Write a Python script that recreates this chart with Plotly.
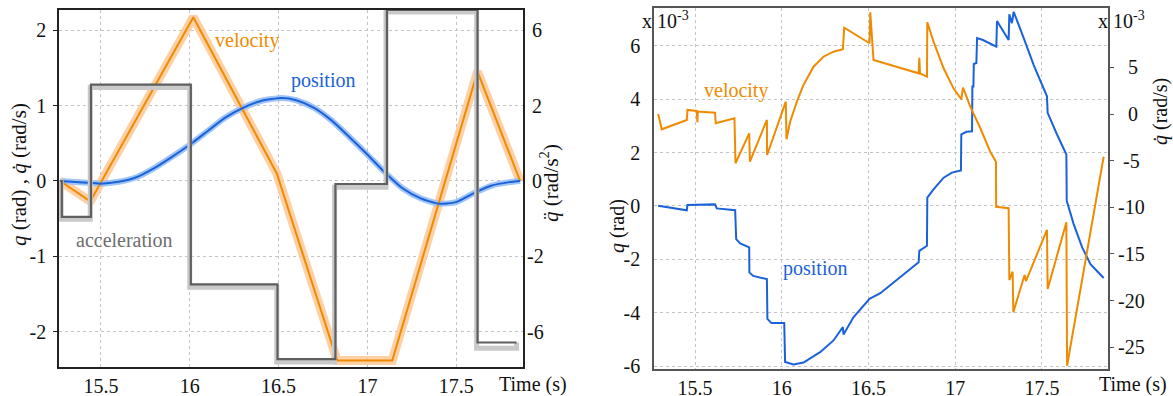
import plotly.graph_objects as go

# ---------------- Left panel data ----------------
vel_t = [15.27, 15.44, 16.02, 16.49, 16.83, 17.14, 17.62, 17.86]
vel_v = [0.0, -0.27, 2.17, 0.10, -2.38, -2.38, 1.45, 0.0]

pos_t = [15.27, 15.40, 15.50, 15.60, 15.70, 15.80, 15.90, 16.00, 16.10, 16.20, 16.30,
         16.40, 16.52, 16.60, 16.70, 16.80, 16.90, 17.00, 17.10, 17.20, 17.30, 17.40,
         17.50, 17.60, 17.70, 17.80, 17.86]
pos_p = [0.0, -0.02, -0.035, -0.01, 0.05, 0.17, 0.32, 0.48, 0.66, 0.84, 0.97,
         1.06, 1.10, 1.07, 0.97, 0.80, 0.58, 0.35, 0.11, -0.10, -0.23, -0.30,
         -0.28, -0.16, -0.06, -0.015, 0.0]

acc_t = [15.27, 15.28, 15.444, 16.006, 16.494, 16.82, 17.11, 17.62, 17.84]
acc_a = [0.0, -1.43, 3.83, -4.11, -7.08, -0.12, 6.8, -6.42, -6.42]

acc_meas_t = [15.27, 15.276, 15.44, 16.0, 16.49, 16.815, 17.105, 17.615, 17.84]
acc_meas_a = [0.0, -1.52, 3.72, -4.22, -7.2, -0.25, 6.72, -6.65, -6.42]

NB = "\u00a0"
acc_ticks = [-6, -3, 0, 3, 6]
acc_ticktext = ["-6", "-2", NB + "0", NB + "2", NB + "6"]
left_ticks = [-2, -1, 0, 1, 2]
left_ticktext = ["-2", "-1", "0", "1", "2"]
x_ticks = [15.5, 16, 16.5, 17, 17.5]
x_ticktext = ["15.5", "16", "16.5", "17", "17.5"]

# ---------------- Right panel data (x 10^-3) ----------------
err_v_t = [15.287, 15.308, 15.452, 15.456, 15.510, 15.513, 15.516, 15.615, 15.619, 15.727,
           15.733, 15.812, 15.816, 15.914, 15.915, 16.023, 16.027, 16.048, 16.087, 16.125,
           16.183, 16.240, 16.298, 16.352, 16.360, 16.506, 16.510, 16.529, 16.789, 16.793,
           16.797, 16.837, 16.839, 16.875, 16.933, 16.990, 17.035, 17.045, 17.087, 17.145,
           17.202, 17.235, 17.236, 17.308, 17.312, 17.331, 17.335, 17.400, 17.408, 17.529,
           17.533, 17.641, 17.645, 17.856]
err_v = [0.0, -1.64, -0.64, 0.43, 0.32, -0.89, 0.27, 0.14, -1.0, -0.46,
         -5.28, -2.07, -5.11, -0.64, -4.39, 1.32, -2.71, -0.83, 1.32, 3.11,
         5.07, 6.14, 6.68, 6.93, 9.25, 7.58, 10.9, 5.79, 4.36, 6.03,
         4.36, 4.0, 9.83, 7.75, 4.9, 2.75, 1.58, 2.82, 0.78, -1.53,
         -4.04, -5.11, -9.94, -10.1, -17.8, -16.9, -21.25, -17.26, -17.9, -12.43,
         -18.76, -11.6, -26.98, -4.58]

err_p_t = [15.287, 15.452, 15.456, 15.615, 15.625, 15.731, 15.737, 15.76, 15.812, 15.813,
           15.835, 15.914, 15.917, 15.94, 16.014, 16.019, 16.067, 16.125, 16.221, 16.298,
           16.352, 16.356, 16.413, 16.506, 16.568, 16.789, 16.793, 16.837, 16.839, 16.875,
           16.933, 16.981, 17.033, 17.035, 17.065, 17.097, 17.099, 17.105, 17.107, 17.122,
           17.126, 17.16, 17.237, 17.241, 17.308, 17.312, 17.327, 17.337, 17.395, 17.452,
           17.529, 17.533, 17.587, 17.641, 17.643, 17.683, 17.732, 17.780, 17.856]
err_p = [0.01, -0.16, 0.04, 0.06, -0.09, -0.16, -1.24, -1.40, -1.55, -2.49,
         -2.62, -2.74, -4.23, -4.39, -4.39, -5.85, -5.94, -5.87, -5.48, -5.04,
         -4.54, -4.82, -4.17, -3.48, -3.27, -2.11, -1.68, -1.49, 0.31, 0.62,
         1.06, 1.25, 1.33, 2.68, 2.78, 2.80, 4.48, 4.48, 5.32, 5.36,
         6.29, 6.22, 5.97, 6.93, 6.22, 7.18, 6.85, 7.28, 6.29, 5.29,
         4.11, 3.49, 2.68, 1.93, 0.19, -0.68, -1.55, -2.18, -2.70]

r_left_ticks = [-6, -4, -2, 0, 2, 4, 6]
r_left_ticktext = ["-6", "-4", "-2", "0", "2", "4", "6"]
r_right_ticks = [-25, -20, -15, -10, -5, 0, 5]
r_right_ticktext = ["-25", "-20", "-15", "-10", NB + "-5", NB + NB + "0", NB + NB + "5"]

ORANGE = "#F08A00"
BLUE = "#1A62DA"
DGRAY = "#5F5F5F"
FONT = "Liberation Serif"

fig = go.Figure()

# left panel: measured (light) bands
fig.add_trace(go.Scatter(x=acc_meas_t, y=acc_meas_a, xaxis="x", yaxis="y2", mode="lines",
                         line=dict(color="#C9C9C9", width=5, shape="hv"), hoverinfo="skip"))
fig.add_trace(go.Scatter(x=vel_t, y=vel_v, xaxis="x", yaxis="y", mode="lines",
                         line=dict(color="rgba(253,200,150,0.85)", width=9), hoverinfo="skip"))
fig.add_trace(go.Scatter(x=pos_t, y=pos_p, xaxis="x", yaxis="y", mode="lines",
                         line=dict(color="rgba(150,190,245,0.9)", width=6, shape="spline", smoothing=0.6),
                         hoverinfo="skip"))
# left panel: reference lines
fig.add_trace(go.Scatter(x=acc_t, y=acc_a, xaxis="x", yaxis="y2", mode="lines",
                         line=dict(color=DGRAY, width=2.2, shape="hv")))
fig.add_trace(go.Scatter(x=vel_t, y=vel_v, xaxis="x", yaxis="y", mode="lines",
                         line=dict(color=ORANGE, width=2)))
fig.add_trace(go.Scatter(x=pos_t, y=pos_p, xaxis="x", yaxis="y", mode="lines",
                         line=dict(color=BLUE, width=2, shape="spline", smoothing=0.6)))

# right panel
fig.add_trace(go.Scatter(x=err_v_t, y=err_v, xaxis="x2", yaxis="y4", mode="lines",
                         line=dict(color=ORANGE, width=2)))
fig.add_trace(go.Scatter(x=err_p_t, y=err_p, xaxis="x2", yaxis="y3", mode="lines",
                         line=dict(color=BLUE, width=2)))

tickfont = dict(family=FONT, size=20, color="#111")
grid = dict(showgrid=True, gridcolor="#C4C4C4", griddash="dot", gridwidth=1)

D1 = [59 / 1173, 523 / 1173]
D2 = [654 / 1173, 1108 / 1173]
YD1 = [1 - 367 / 396, 1 - 10 / 396]
YD2 = [1 - 369 / 396, 1 - 8 / 396]

fig.update_layout(
    width=1173, height=396,
    margin=dict(l=0, r=0, t=0, b=0, pad=0),
    paper_bgcolor="white", plot_bgcolor="white", showlegend=False,
    font=dict(family=FONT, size=20, color="#111"),
    xaxis=dict(domain=D1, anchor="y", range=[15.264, 17.876], tickvals=x_ticks, ticktext=x_ticktext,
               tickfont=tickfont, showline=True, linecolor="#222", linewidth=1.5, mirror=True,
               ticks="", zeroline=False, automargin=False, **grid),
    yaxis=dict(domain=YD1, anchor="x", range=[-2.465, 2.266], tickvals=left_ticks, ticktext=left_ticktext,
               tickfont=tickfont, showline=True, linecolor="#222", linewidth=1.5, mirror=True,
               ticks="outside", ticklen=4, tickcolor="#222", ticklabelstandoff=3,
               zeroline=False, automargin=False, **grid),
    yaxis2=dict(overlaying="y", side="right", anchor="x", range=[-7.395, 6.798],
                tickvals=acc_ticks, ticktext=acc_ticktext, tickfont=tickfont, showgrid=False,
                zeroline=False, ticks="", ticklabelstandoff=3, automargin=False, showline=False),
    xaxis2=dict(domain=D2, anchor="y3", range=[15.263, 17.881], tickvals=x_ticks, ticktext=x_ticktext,
                tickfont=tickfont, showline=True, linecolor="#555", linewidth=1.5, mirror=True,
                ticks="", zeroline=False, automargin=False, **grid),
    yaxis3=dict(domain=YD2, anchor="x2", range=[-6.11, 7.42], tickvals=r_left_ticks, ticktext=r_left_ticktext,
                tickfont=tickfont, showline=True, linecolor="#555", linewidth=1.5, mirror=True,
                ticks="", ticklabelstandoff=8, zeroline=False, automargin=False, **grid),
    yaxis4=dict(overlaying="y3", side="right", anchor="x2", range=[-27.33, 11.36],
                tickvals=r_right_ticks, ticktext=r_right_ticktext, tickfont=tickfont, showgrid=False,
                zeroline=False, ticks="outside", ticklen=5, tickcolor="#555", automargin=False, showline=False),
)

ann = []
def A(text, x, y, xref="paper", yref="paper", size=20, color="#111", angle=0, xanchor="center", yanchor="middle"):
    ann.append(dict(text=text, x=x, y=y, xref=xref, yref=yref, showarrow=False, textangle=angle,
                    font=dict(family=FONT, size=size, color=color), xanchor=xanchor, yanchor=yanchor))

# in-plot labels
A("velocity", 16.32, 1.86, "x", "y", color=ORANGE)
A("position", 16.75, 1.33, "x", "y", color=BLUE)
A("acceleration", 15.63, -0.78, "x", "y", color="#6E6E6E")
A("velocity", 15.737, 4.32, "x2", "y3", color=ORANGE)
A("position", 16.19, -2.36, "x2", "y3", color=BLUE)

# axis titles
A("<i>q</i> (rad) , <i>q̇</i> (rad/s)", 19 / 1173, 1 - 175 / 396, angle=-90, size=21)
A("<i>q̈</i> (rad/s<sup>2</sup>)", 549 / 1173, 1 - 183 / 396, angle=-90, size=21)
A("<i>q</i> (rad)", 617 / 1173, 1 - 226 / 396, angle=-90, size=20)
A("<i>q̇</i> (rad/s)", 1160 / 1173, 1 - 112 / 396, angle=-90, size=20)
A("Time (s)", 533 / 1173, 1 - 384 / 396, size=20)
A("Time (s)", 1133 / 1173, 1 - 384 / 396, size=20)
# multipliers
A("x 10<sup>-3</sup>", 640 / 1173, 1 - 20 / 396, xanchor="left", size=20)
A("x 10<sup>-3</sup>", 1096 / 1173, 1 - 20 / 396, xanchor="left", size=20)

fig.update_layout(annotations=ann)
fig.write_html("out.html")
